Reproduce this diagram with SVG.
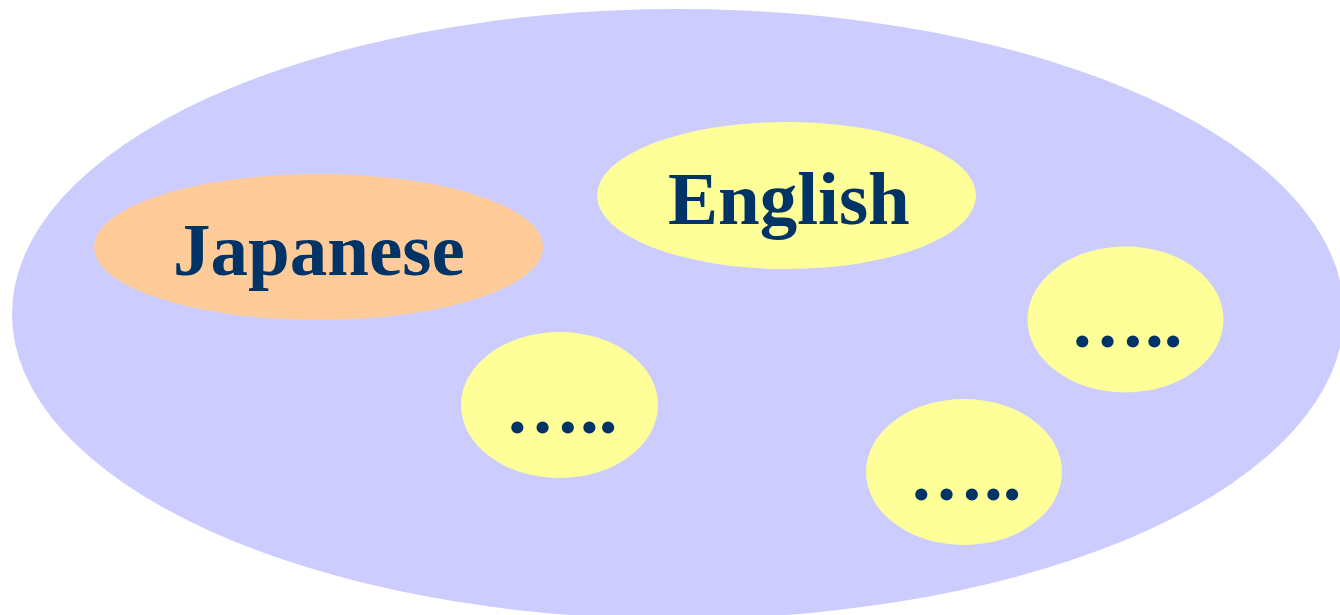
<svg xmlns="http://www.w3.org/2000/svg" width="1340" height="615" viewBox="0 0 1340 615">
<style>
.lbl{font-family:"Liberation Serif","Times New Roman",serif;font-weight:bold;font-size:75px;fill:#003366}
.y{fill:#FFFF99}
</style>
<rect width="1340" height="615" fill="#FFFFFF"/>
<g id="universe"><ellipse cx="678" cy="314" rx="666" ry="305" fill="#CCCCFF"/></g>
<g id="japanese"><ellipse cx="318.5" cy="247" rx="224.5" ry="73" fill="#FFCC99"/><text class="lbl" x="173" y="275">Japanese</text></g>
<g id="english"><ellipse class="y" cx="786.5" cy="195.5" rx="189.5" ry="73.5"/><text class="lbl" x="668" y="224">English</text></g>
<g id="other1"><ellipse class="y" cx="559.5" cy="405" rx="98.5" ry="73"/><text class="lbl" x="505" y="433">…..</text></g>
<g id="other2"><ellipse class="y" cx="1125.5" cy="319.5" rx="98" ry="73"/><text class="lbl" x="1070" y="347">…..</text></g>
<g id="other3"><ellipse class="y" cx="964" cy="472" rx="98" ry="73"/><text class="lbl" x="909" y="500">…..</text></g>
<g id="connectors"/>
</svg>
